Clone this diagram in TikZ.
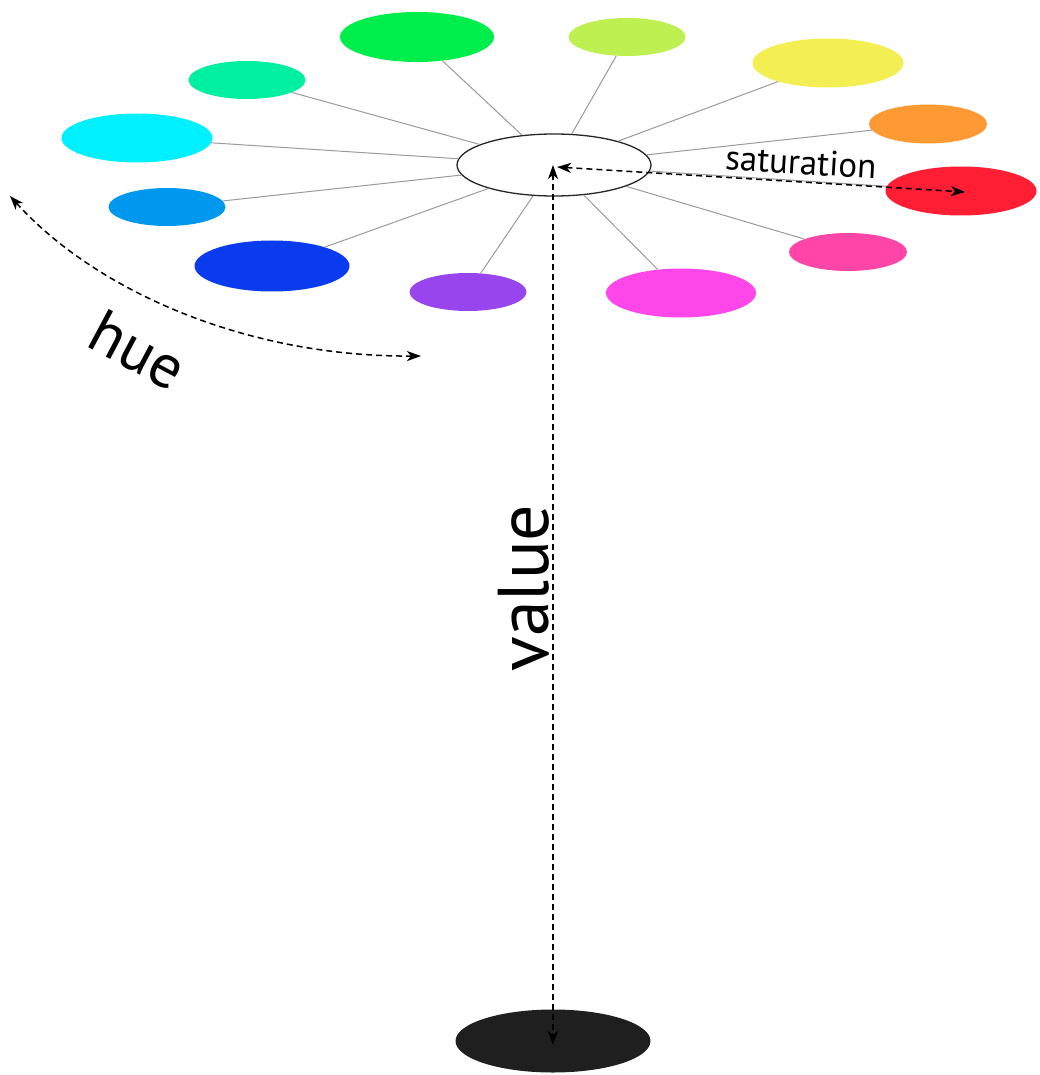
\documentclass[tikz,border=0pt]{standalone}
\usepackage{fontspec}
\setmainfont{PT Sans}
\usetikzlibrary{shapes.geometric,arrows.meta}
\definecolor{cGreen}{HTML}{00EE4C}
\definecolor{cYelGreen}{HTML}{BDF050}
\definecolor{cYellow}{HTML}{F3EF52}
\definecolor{cOrange}{HTML}{FF9933}
\definecolor{cRed}{HTML}{FF1E33}
\definecolor{cPink}{HTML}{FF46A8}
\definecolor{cMagenta}{HTML}{FF46E8}
\definecolor{cPurple}{HTML}{9945EE}
\definecolor{cBlue}{HTML}{0B3BEE}
\definecolor{cLightBlue}{HTML}{0098EE}
\definecolor{cCyan}{HTML}{00F0FF}
\definecolor{cTeal}{HTML}{00EFA0}
\definecolor{spokegray}{HTML}{9A9A9A}
\tikzset{
  blob/.style n args={3}{ellipse, inner sep=0pt, fill=#1, draw=none,
     minimum width=#2pt, minimum height=#3pt},
  spoke/.style={draw=spokegray, line width=1pt},
  dasharrow/.style={line width=1.5pt, dash pattern=on 6pt off 4pt,
     {Stealth[length=14pt,width=10pt,inset=4pt]}-{Stealth[length=14pt,width=10pt,inset=4pt]}},
}
\begin{document}
\begin{tikzpicture}[x=1pt,y=-1pt]
\useasboundingbox (0,0) rectangle (1039,1075);
% colored ellipses
\node[blob={cGreen}{154}{50}] (g1) at (417,37) {};
\node[blob={cYelGreen}{117}{38}] (g2) at (627,37) {};
\node[blob={cYellow}{151}{49}] (g3) at (828,63) {};
\node[blob={cOrange}{118}{39}] (g4) at (928,124) {};
\node[blob={cRed}{151}{49}] (g5) at (961,191) {};
\node[blob={cPink}{118}{38}] (g6) at (848,252) {};
\node[blob={cMagenta}{150}{49}] (g7) at (681,293) {};
\node[blob={cPurple}{117}{38}] (g8) at (468,292) {};
\node[blob={cBlue}{155}{51}] (g9) at (272,266) {};
\node[blob={cLightBlue}{117}{38}] (g10) at (167,207) {};
\node[blob={cCyan}{151}{49}] (g11) at (137,138) {};
\node[blob={cTeal}{117}{38}] (g12) at (247,80) {};
% center and bottom
\node[ellipse, inner sep=0pt, draw=black!85, line width=1.3pt, fill=white,
      minimum width=194pt, minimum height=62pt] (c) at (554,165) {};
\node[ellipse, inner sep=0pt, fill=black!88, draw=none,
      minimum width=195pt, minimum height=63pt] (bot) at (553,1041) {};
% spokes
\foreach \i in {1,...,12} { \draw[spoke] (c) -- (g\i); }
% arrows
\coordinate (va) at (553,165);
\coordinate (vb) at (553,1045);
\draw[dasharrow] (va) -- (vb);
\coordinate (sa) at (557,167);
\coordinate (sb) at (965,192);
\draw[dasharrow] (sa) -- (sb);
\coordinate (ha) at (10,196);
\coordinate (hb) at (421,356);
\draw[dasharrow] (ha) .. controls (95,290) and (245,357) .. (hb);
% labels
\node[rotate=-3.6, font=\fontsize{35}{40}\selectfont, inner sep=0pt] (satl) at (801,162) {saturation};
\node[rotate=90, font=\fontsize{72}{80}\selectfont, inner sep=0pt] (vall) at (524,588) {value};
\node[rotate=-28, font=\fontsize{62}{68}\selectfont, inner sep=0pt] (huel) at (138,350) {hue};
\end{tikzpicture}
\end{document}
